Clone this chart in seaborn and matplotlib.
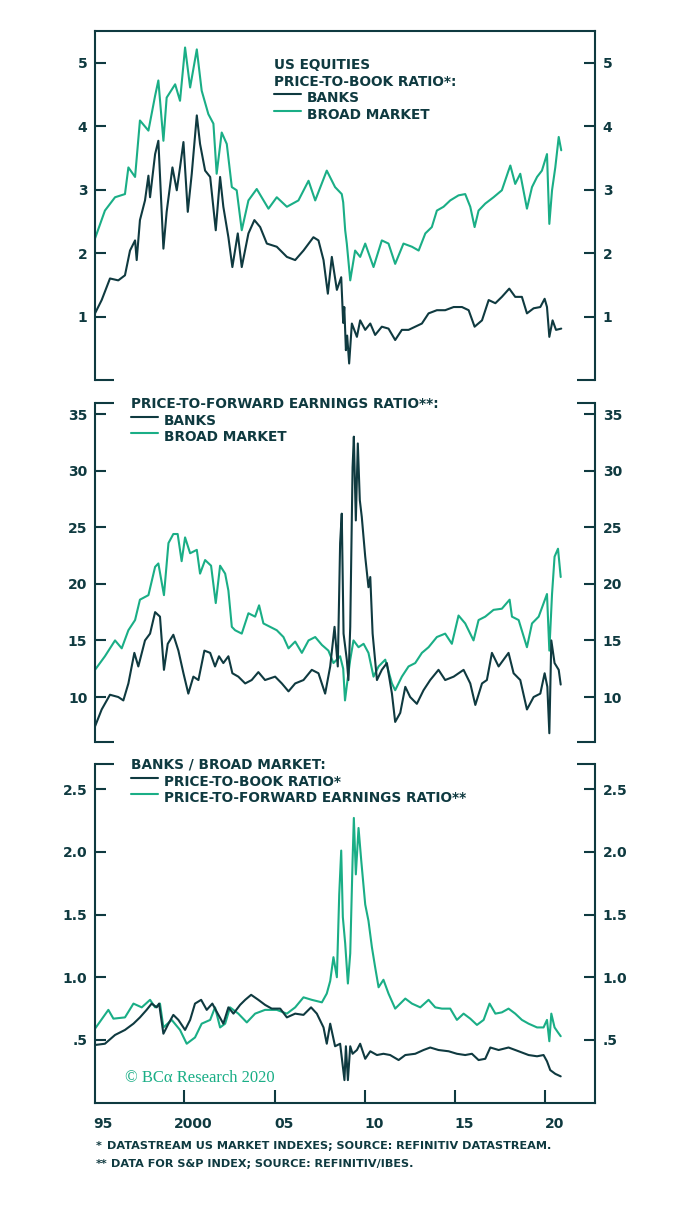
import matplotlib
matplotlib.use("Agg")
import matplotlib.pyplot as plt
from matplotlib.lines import Line2D
import seaborn as sns

# colours
DARK = "#0f3a40"
GREEN = "#1aae86"

# ---- data (year, value) ----
# panel 1: price-to-book
pb_bank_t = [1995.05, 1995.42, 1995.88, 1996.34, 1996.71, 1996.99, 1997.27, 1997.36, 1997.54, 1997.82,
             1998.01, 1998.10, 1998.38, 1998.56, 1998.84, 1999.02, 1999.34, 1999.58, 1999.76, 1999.95,
             2000.19, 2000.41, 2000.69, 2000.87, 2001.15, 2001.43, 2001.74, 2001.98, 2002.16, 2002.44,
             2002.66, 2002.96, 2003.18, 2003.55, 2003.88, 2004.20, 2004.57, 2005.12, 2005.68, 2006.14,
             2006.60, 2007.15, 2007.43, 2007.71, 2007.95, 2008.17, 2008.45, 2008.69, 2008.80, 2008.86,
             2008.95, 2009.02, 2009.13, 2009.28, 2009.56, 2009.74, 2010.02, 2010.30, 2010.57, 2010.94,
             2011.31, 2011.68, 2012.05, 2012.42, 2012.79, 2013.16, 2013.53, 2013.99, 2014.45, 2014.92,
             2015.38, 2015.75, 2016.08, 2016.49, 2016.86, 2017.23, 2017.59, 2018.00, 2018.33, 2018.70,
             2018.98, 2019.35, 2019.72, 2019.96, 2020.09, 2020.22, 2020.40, 2020.59, 2020.88]
pb_bank_v = [1.05, 1.26, 1.60, 1.57, 1.65, 2.04, 2.20, 1.89, 2.52, 2.83,
             3.22, 2.88, 3.56, 3.77, 2.07, 2.65, 3.35, 2.99, 3.35, 3.75,
             2.65, 3.25, 4.17, 3.72, 3.30, 3.20, 2.36, 3.20, 2.73, 2.25,
             1.78, 2.31, 1.78, 2.31, 2.52, 2.41, 2.15, 2.10, 1.94, 1.89,
             2.04, 2.25, 2.20, 1.89, 1.36, 1.94, 1.42, 1.62, 0.90, 1.15,
             0.47, 0.70, 0.26, 0.89, 0.68, 0.94, 0.79, 0.89, 0.71, 0.84,
             0.81, 0.63, 0.79, 0.79, 0.84, 0.89, 1.05, 1.10, 1.10, 1.15,
             1.15, 1.10, 0.84, 0.94, 1.26, 1.21, 1.31, 1.44, 1.31, 1.31,
             1.05, 1.13, 1.15, 1.28, 1.15, 0.68, 0.94, 0.79, 0.81]

pb_mkt_t = [1995.05, 1995.60, 1996.16, 1996.71, 1996.90, 1997.27, 1997.54, 1998.01, 1998.38, 1998.56,
            1998.84, 1999.02, 1999.49, 1999.76, 2000.04, 2000.32, 2000.69, 2000.96, 2001.33, 2001.61,
            2001.79, 2002.07, 2002.35, 2002.63, 2002.90, 2003.18, 2003.55, 2004.01, 2004.66, 2005.12,
            2005.68, 2006.32, 2006.88, 2007.25, 2007.89, 2008.35, 2008.72, 2008.80, 2008.91, 2009.00,
            2009.19, 2009.46, 2009.74, 2010.02, 2010.48, 2010.94, 2011.31, 2011.68, 2012.14, 2012.61,
            2012.98, 2013.35, 2013.71, 2013.99, 2014.36, 2014.73, 2015.19, 2015.56, 2015.84, 2016.08,
            2016.30, 2016.67, 2017.13, 2017.59, 2017.96, 2018.06, 2018.33, 2018.61, 2018.98, 2019.26,
            2019.54, 2019.81, 2020.09, 2020.22, 2020.37, 2020.55, 2020.74, 2020.88]
pb_mkt_v = [2.23, 2.67, 2.88, 2.93, 3.35, 3.20, 4.09, 3.93, 4.48, 4.72,
            3.77, 4.45, 4.66, 4.40, 5.24, 4.61, 5.21, 4.56, 4.19, 4.04,
            3.25, 3.90, 3.72, 3.04, 2.99, 2.36, 2.83, 3.01, 2.70, 2.88,
            2.73, 2.83, 3.14, 2.83, 3.30, 3.04, 2.93, 2.80, 2.36, 2.15,
            1.57, 2.04, 1.94, 2.15, 1.78, 2.20, 2.15, 1.83, 2.15, 2.10,
            2.04, 2.31, 2.41, 2.67, 2.73, 2.83, 2.91, 2.93, 2.73, 2.41,
            2.67, 2.78, 2.88, 2.99, 3.30, 3.38, 3.09, 3.25, 2.70, 3.04,
            3.20, 3.30, 3.56, 2.46, 2.99, 3.35, 3.83, 3.62]

# panel 2: price-to-forward earnings
pe_bank_t = [1995.05, 1995.42, 1995.88, 1996.34, 1996.62, 1996.90, 1997.23, 1997.45, 1997.82, 1998.10,
             1998.38, 1998.65, 1998.87, 1999.08, 1999.39, 1999.67, 1999.95, 2000.22, 2000.50, 2000.78,
             2001.11, 2001.43, 2001.70, 2001.92, 2002.16, 2002.44, 2002.66, 2002.99, 2003.37, 2003.73,
             2004.10, 2004.47, 2005.03, 2005.40, 2005.77, 2006.14, 2006.60, 2007.06, 2007.43, 2007.80,
             2008.08, 2008.32, 2008.50, 2008.63, 2008.72, 2008.82, 2009.00, 2009.09, 2009.19, 2009.32,
             2009.39, 2009.50, 2009.61, 2009.72, 2009.83, 2010.02, 2010.20, 2010.30, 2010.43, 2010.67,
             2010.94, 2011.22, 2011.50, 2011.68, 2011.96, 2012.24, 2012.51, 2012.88, 2013.25, 2013.62,
             2014.08, 2014.45, 2014.92, 2015.47, 2015.84, 2016.12, 2016.49, 2016.76, 2017.04, 2017.41,
             2017.96, 2018.24, 2018.61, 2018.98, 2019.35, 2019.72, 2019.96, 2020.11, 2020.22, 2020.33,
             2020.51, 2020.74, 2020.85]
pe_bank_v = [7.4, 8.9, 10.2, 10.0, 9.7, 11.2, 13.9, 12.7, 15.0, 15.6,
             17.5, 17.1, 12.4, 14.7, 15.5, 14.1, 12.1, 10.3, 11.8, 11.5,
             14.1, 13.9, 12.7, 13.6, 13.0, 13.6, 12.1, 11.8, 11.2, 11.5,
             12.2, 11.5, 11.8, 11.2, 10.5, 11.2, 11.5, 12.4, 12.1, 10.3,
             12.7, 16.2, 12.7, 23.6, 26.2, 15.6, 13.3, 11.5, 16.2, 30.3,
             33.0, 25.6, 32.4, 27.4, 25.9, 22.4, 19.7, 20.6, 15.6, 11.5,
             12.4, 13.0, 10.3, 7.8, 8.6, 10.9, 10.0, 9.4, 10.6, 11.5,
             12.4, 11.5, 11.8, 12.4, 11.2, 9.3, 11.2, 11.5, 13.9, 12.7,
             13.9, 12.1, 11.5, 8.9, 10.0, 10.3, 12.1, 10.9, 6.8, 15.0,
             13.0, 12.4, 11.1]

pe_mkt_t = [1995.05, 1995.60, 1996.16, 1996.53, 1996.90, 1997.27, 1997.54, 1998.01, 1998.38, 1998.56,
            1998.87, 1999.12, 1999.39, 1999.63, 1999.85, 2000.04, 2000.32, 2000.69, 2000.87, 2001.15,
            2001.48, 2001.74, 2001.98, 2002.26, 2002.44, 2002.63, 2002.81, 2003.18, 2003.55, 2003.92,
            2004.14, 2004.38, 2004.75, 2005.12, 2005.49, 2005.77, 2006.14, 2006.51, 2006.88, 2007.25,
            2007.62, 2007.98, 2008.26, 2008.63, 2008.80, 2008.90, 2009.00, 2009.09, 2009.19, 2009.37,
            2009.65, 2009.93, 2010.20, 2010.48, 2010.76, 2011.13, 2011.50, 2011.68, 2012.05, 2012.42,
            2012.79, 2013.16, 2013.53, 2013.99, 2014.45, 2014.82, 2015.19, 2015.56, 2016.02, 2016.30,
            2016.67, 2017.13, 2017.59, 2018.02, 2018.15, 2018.52, 2018.98, 2019.26, 2019.63, 2020.09,
            2020.22, 2020.37, 2020.51, 2020.70, 2020.85]
pe_mkt_v = [12.4, 13.6, 15.0, 14.3, 15.9, 16.8, 18.6, 19.0, 21.5, 21.8,
            19.0, 23.6, 24.4, 24.4, 22.0, 24.1, 22.7, 23.0, 20.9, 22.1,
            21.6, 18.3, 21.6, 20.9, 19.4, 16.2, 15.9, 15.6, 17.4, 17.1,
            18.1, 16.5, 16.2, 15.9, 15.3, 14.3, 14.9, 13.9, 15.0, 15.3,
            14.6, 14.1, 13.0, 13.6, 12.5, 9.7, 11.0, 12.1, 13.3, 15.0,
            14.4, 14.7, 13.9, 11.8, 12.7, 13.3, 11.2, 10.6, 11.8, 12.7,
            13.0, 13.9, 14.4, 15.3, 15.6, 14.7, 17.2, 16.5, 15.0, 16.8,
            17.1, 17.7, 17.8, 18.6, 17.1, 16.8, 14.4, 16.5, 17.1, 19.1,
            14.1, 19.1, 22.4, 23.1, 20.6]

# panel 3: banks relative to broad market
ratio_pb_t = [1995.05, 1995.60, 1996.16, 1996.71, 1997.18, 1997.54, 1997.91, 1998.19, 1998.47, 1998.60,
              1998.84, 1999.12, 1999.39, 1999.67, 2000.04, 2000.32, 2000.59, 2000.93, 2001.24, 2001.55,
              2001.85, 2002.16, 2002.44, 2002.72, 2003.09, 2003.37, 2003.70, 2004.10, 2004.47, 2004.84,
              2005.31, 2005.68, 2006.14, 2006.60, 2007.02, 2007.34, 2007.71, 2007.89, 2008.08, 2008.35,
              2008.63, 2008.87, 2008.95, 2009.06, 2009.19, 2009.32, 2009.56, 2009.74, 2010.02, 2010.30,
              2010.67, 2011.03, 2011.40, 2011.87, 2012.24, 2012.79, 2013.25, 2013.62, 2014.08, 2014.64,
              2015.10, 2015.56, 2015.93, 2016.30, 2016.67, 2016.95, 2017.41, 2017.96, 2018.52, 2019.07,
              2019.54, 2019.90, 2020.09, 2020.27, 2020.55, 2020.85]
ratio_pb_v = [0.46, 0.47, 0.54, 0.58, 0.63, 0.68, 0.74, 0.79, 0.76, 0.79,
              0.55, 0.63, 0.70, 0.66, 0.58, 0.66, 0.79, 0.82, 0.74, 0.79,
              0.71, 0.63, 0.76, 0.71, 0.78, 0.82, 0.86, 0.82, 0.78, 0.75,
              0.75, 0.68, 0.71, 0.70, 0.76, 0.71, 0.60, 0.47, 0.63, 0.45,
              0.47, 0.18, 0.45, 0.18, 0.45, 0.39, 0.42, 0.47, 0.35, 0.41,
              0.38, 0.39, 0.38, 0.34, 0.38, 0.39, 0.42, 0.44, 0.42, 0.41,
              0.39, 0.38, 0.39, 0.34, 0.35, 0.44, 0.42, 0.44, 0.41, 0.38,
              0.37, 0.38, 0.33, 0.26, 0.23, 0.21]

ratio_pe_t = [1995.05, 1995.79, 1996.07, 1996.71, 1997.18, 1997.64, 1998.10, 1998.38, 1998.65, 1998.84,
              1999.30, 1999.76, 2000.13, 2000.59, 2000.96, 2001.43, 2001.70, 2001.98, 2002.26, 2002.53,
              2002.99, 2003.46, 2003.92, 2004.47, 2005.12, 2005.68, 2006.14, 2006.60, 2007.06, 2007.62,
              2007.89, 2008.08, 2008.26, 2008.45, 2008.58, 2008.69, 2008.78, 2008.91, 2009.06, 2009.19,
              2009.32, 2009.39, 2009.50, 2009.65, 2009.80, 2010.02, 2010.20, 2010.39, 2010.57, 2010.76,
              2011.03, 2011.31, 2011.68, 2011.96, 2012.24, 2012.61, 2013.07, 2013.53, 2013.90, 2014.27,
              2014.73, 2015.10, 2015.47, 2015.84, 2016.21, 2016.58, 2016.91, 2017.23, 2017.59, 2017.96,
              2018.33, 2018.70, 2019.07, 2019.54, 2019.90, 2020.09, 2020.22, 2020.33, 2020.51, 2020.70,
              2020.85]
ratio_pe_v = [0.59, 0.74, 0.67, 0.68, 0.79, 0.76, 0.82, 0.76, 0.79, 0.60,
              0.66, 0.58, 0.47, 0.52, 0.63, 0.66, 0.76, 0.60, 0.63, 0.76,
              0.71, 0.64, 0.71, 0.74, 0.74, 0.71, 0.76, 0.84, 0.82, 0.80,
              0.87, 0.97, 1.16, 1.00, 1.66, 2.01, 1.48, 1.27, 0.95, 1.19,
              1.93, 2.27, 1.82, 2.19, 1.93, 1.58, 1.45, 1.24, 1.08, 0.92,
              0.98, 0.87, 0.75, 0.79, 0.83, 0.79, 0.76, 0.82, 0.76, 0.75,
              0.75, 0.66, 0.71, 0.67, 0.62, 0.66, 0.79, 0.71, 0.72, 0.75,
              0.71, 0.66, 0.63, 0.60, 0.60, 0.66, 0.49, 0.71, 0.60, 0.56,
              0.53]

# axis ticks
year_ticks = [2000, 2005, 2010, 2015, 2020]
year_label_pos = [1995.5, 2000.5, 2005.5, 2010.5, 2015.5, 2020.5]
year_labels = ["95", "2000", "05", "10", "15", "20"]
pb_ticks = [1, 2, 3, 4, 5]
pe_ticks = [10, 15, 20, 25, 30, 35]
ratio_ticks = [0.5, 1.0, 1.5, 2.0, 2.5]
ratio_tick_labels = [".5", "1.0", "1.5", "2.0", "2.5"]

W, H = 688, 1208
XLIM = (1995.05, 2022.75)
TICK_SIZE = 10

sns.set_style("white")
plt.rcParams["font.family"] = ["DejaVu Sans"]
plt.rcParams["font.weight"] = "bold"


def fx(x):
    return x / W


def fy(y):
    return 1 - y / H


def make_axes(fig, top, bottom):
    return fig.add_axes([fx(95), fy(bottom), 500 / W, (bottom - top) / H])


def style_axes(ax, show_top, show_bottom):
    ax.set_xlim(*XLIM)
    for side in ["left", "right", "top", "bottom"]:
        ax.spines[side].set_color(DARK)
        ax.spines[side].set_linewidth(1.5)
    ax.spines["top"].set_visible(show_top)
    ax.spines["bottom"].set_visible(show_bottom)
    ax.tick_params(axis="y", which="major", direction="in", length=8, width=1.5,
                   left=True, right=True, labelleft=True, labelright=True,
                   colors=DARK, labelsize=TICK_SIZE, pad=5.5)
    for lbl in ax.get_yticklabels(which="both"):
        lbl.set_fontweight("bold")
    ax.set_xlabel("")
    ax.set_ylabel("")
    # short stubs where the panel edge is open
    stub = 0.037
    for y, shown in [(1, show_top), (0, show_bottom)]:
        if not shown:
            for x0 in (0, 1 - stub):
                ax.plot([x0, x0 + stub], [y, y], transform=ax.transAxes,
                        color=DARK, lw=1.5, clip_on=False, solid_capstyle="butt")


def draw_pair(ax, t1, v1, t2, v2):
    sns.lineplot(x=t2, y=v2, ax=ax, color=GREEN, lw=1.5, estimator=None, sort=False)
    sns.lineplot(x=t1, y=v1, ax=ax, color=DARK, lw=1.5, estimator=None, sort=False)


def legend_block(fig, x, header_rows, entries, y0, step=16.6):
    y = y0
    for row in header_rows:
        fig.text(fx(x), fy(y + 5), row, color=DARK, fontsize=9.8, fontweight="bold", va="baseline")
        y += step
    for label, col in entries:
        fig.add_artist(Line2D([fx(x), fx(x + 27)], [fy(y - 3), fy(y - 3)], color=col, lw=1.5,
                              transform=fig.transFigure))
        fig.text(fx(x + 33), fy(y + 5), label, color=DARK, fontsize=9.8, fontweight="bold",
                 va="baseline")
        y += step


fig = plt.figure(figsize=(W / 100, H / 100), dpi=100)

ax1 = make_axes(fig, 31, 380)
draw_pair(ax1, pb_bank_t, pb_bank_v, pb_mkt_t, pb_mkt_v)
ax1.set_ylim(0, 5.5)
ax1.set_yticks(pb_ticks, [str(t) for t in pb_ticks])
style_axes(ax1, True, False)
ax1.tick_params(axis="x", bottom=False, labelbottom=False)

ax2 = make_axes(fig, 402.7, 742.3)
draw_pair(ax2, pe_bank_t, pe_bank_v, pe_mkt_t, pe_mkt_v)
ax2.set_ylim(6, 36)
ax2.set_yticks(pe_ticks, [str(t) for t in pe_ticks])
style_axes(ax2, False, False)
ax2.tick_params(axis="x", bottom=False, labelbottom=False)

ax3 = make_axes(fig, 764, 1102.7)
draw_pair(ax3, ratio_pb_t, ratio_pb_v, ratio_pe_t, ratio_pe_v)
ax3.set_ylim(0, 2.7)
ax3.set_yticks(ratio_ticks, ratio_tick_labels)
style_axes(ax3, False, True)
ax3.set_xticks(year_ticks, [""] * len(year_ticks))
ax3.set_xticks(year_label_pos, year_labels, minor=True)
ax3.tick_params(axis="x", which="major", direction="in", length=9.5, width=1.5,
                bottom=True, colors=DARK)
ax3.tick_params(axis="x", which="minor", length=0, pad=10, labelsize=TICK_SIZE, colors=DARK)
for lbl in ax3.get_xticklabels(which="minor"):
    lbl.set_fontweight("bold")

# legends
legend_block(fig, 274, ["US EQUITIES", "PRICE-TO-BOOK RATIO*:"],
             [("BANKS", DARK), ("BROAD MARKET", GREEN)], 64.2)
legend_block(fig, 131, ["PRICE-TO-FORWARD EARNINGS RATIO**:"],
             [("BANKS", DARK), ("BROAD MARKET", GREEN)], 403)
legend_block(fig, 131, ["BANKS / BROAD MARKET:"],
             [("PRICE-TO-BOOK RATIO*", DARK), ("PRICE-TO-FORWARD EARNINGS RATIO**", GREEN)], 764)

# copyright and footnotes
fig.text(fx(125), fy(1082), "© BCα Research 2020", color=GREEN, fontsize=12,
         family=["Liberation Serif", "DejaVu Serif"], fontweight="normal", va="baseline")
fig.text(fx(96), fy(1149), "*", color=DARK, fontsize=8.1, fontweight="bold", va="baseline")
fig.text(fx(107), fy(1149), "DATASTREAM US MARKET INDEXES; SOURCE: REFINITIV DATASTREAM.",
         color=DARK, fontsize=8.1, fontweight="bold", va="baseline")
fig.text(fx(96), fy(1167), "**", color=DARK, fontsize=8.1, fontweight="bold", va="baseline")
fig.text(fx(111), fy(1167), "DATA FOR S&P INDEX; SOURCE: REFINITIV/IBES.",
         color=DARK, fontsize=8.1, fontweight="bold", va="baseline")

fig.savefig("out.png", dpi=100, facecolor="white")
